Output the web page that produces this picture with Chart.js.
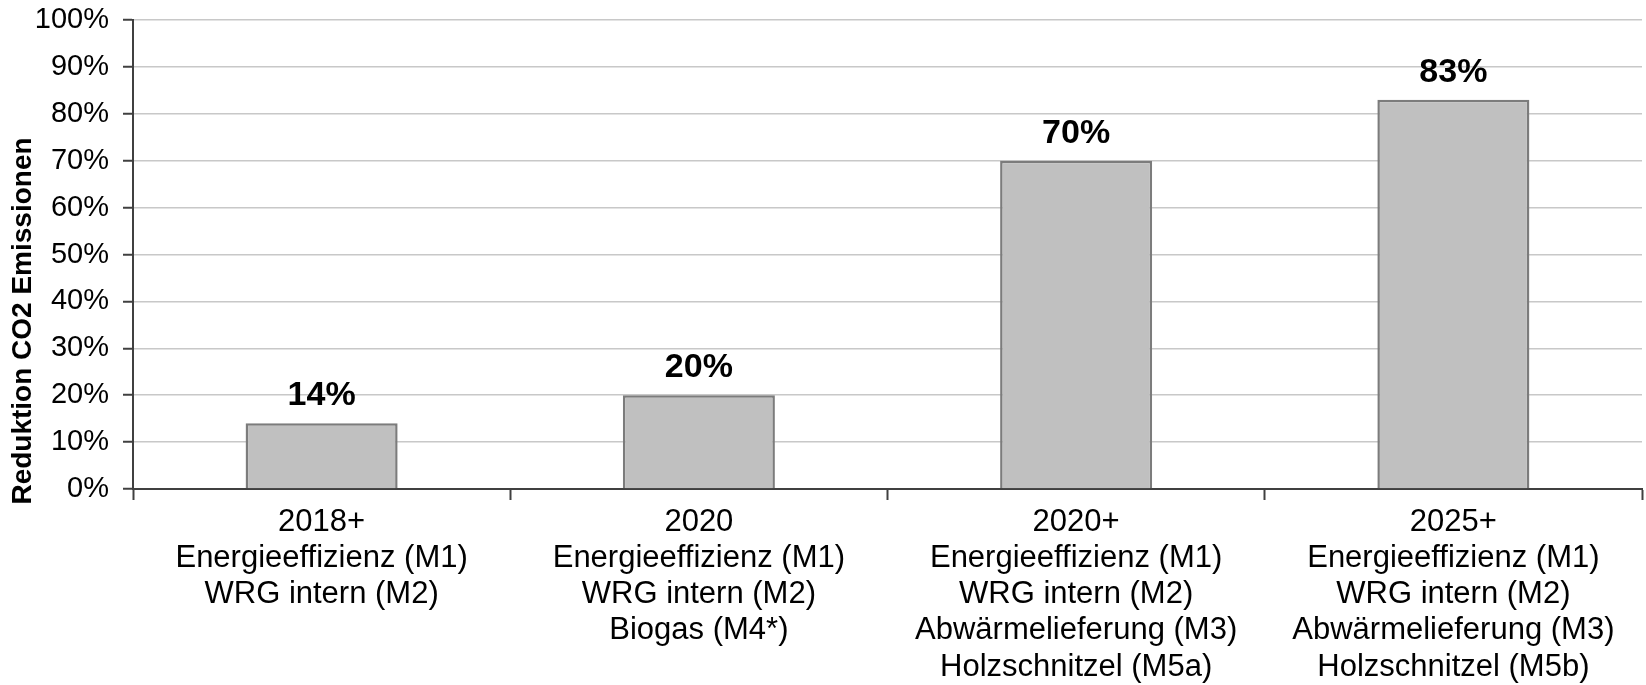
<!DOCTYPE html>
<html lang="de">
<head>
<meta charset="utf-8">
<title>Reduktion CO2 Emissionen</title>
<script src="https://cdn.jsdelivr.net/npm/chart.js@4/dist/chart.umd.min.js"></script>
<style>
  html, body { margin: 0; padding: 0; background: #ffffff; }
  #wrap { width: 1646px; height: 685px; }
</style>
</head>
<body>
<div id="wrap"><canvas id="chart" width="1646" height="685"></canvas></div>
<script>
// Scenario labels (one array entry per text line)
const categories = [
  ["2018+", "Energieeffizienz (M1)", "WRG intern (M2)"],
  ["2020", "Energieeffizienz (M1)", "WRG intern (M2)", "Biogas (M4*)"],
  ["2020+", "Energieeffizienz (M1)", "WRG intern (M2)", "Abwärmelieferung (M3)", "Holzschnitzel (M5a)"],
  ["2025+", "Energieeffizienz (M1)", "WRG intern (M2)", "Abwärmelieferung (M3)", "Holzschnitzel (M5b)"]
];

// CO2 reduction per scenario, in percent
const reductionValues = [14, 20, 70, 83];

// Y axis tick values (percent)
const yTickValues = [0, 10, 20, 30, 40, 50, 60, 70, 80, 90, 100];

const axisTitle = "Reduktion CO2 Emissionen";
const FONT = "'Liberation Sans', Arial, sans-serif";

// Bold value labels above each bar
const valueLabels = {
  id: 'valueLabels',
  afterDatasetsDraw(chart) {
    const ctx = chart.ctx;
    const meta = chart.getDatasetMeta(0);
    ctx.save();
    ctx.font = "bold 34px " + FONT;
    ctx.fillStyle = "#000000";
    ctx.textAlign = "center";
    ctx.textBaseline = "alphabetic";
    meta.data.forEach((bar, i) => {
      ctx.fillText(reductionValues[i] + "%", bar.x, bar.y - 18);
    });
    ctx.restore();
  }
};

// Rotated y axis title
const yTitle = {
  id: 'yTitle',
  afterDraw(chart) {
    const ctx = chart.ctx;
    ctx.save();
    ctx.translate(23, 321);
    ctx.rotate(-Math.PI / 2);
    ctx.font = "bold 28px " + FONT;
    ctx.fillStyle = "#000000";
    ctx.textAlign = "center";
    ctx.textBaseline = "middle";
    ctx.fillText(axisTitle, 0, 0);
    ctx.restore();
  }
};

new Chart(document.getElementById('chart'), {
  type: 'bar',
  data: {
    labels: categories,
    datasets: [{
      data: reductionValues,
      backgroundColor: '#c0c0c0',
      borderColor: '#7c7c7c',
      borderWidth: 2.5,
      categoryPercentage: 1.0,
      barPercentage: 0.403
    }]
  },
  options: {
    responsive: false,
    animation: false,
    layout: { padding: { top: 20, right: 4, left: 0, bottom: 0 } },
    plugins: {
      legend: { display: false },
      tooltip: { enabled: false }
    },
    scales: {
      x: {
        offset: true,
        grid: {
          offset: true,
          drawOnChartArea: false,
          drawTicks: true,
          tickLength: 11,
          tickWidth: 2,
          tickColor: '#404040'
        },
        border: { display: true, color: '#404040', width: 2 },
        ticks: {
          color: '#000000',
          font: { family: FONT, size: 31, lineHeight: 1.17 },
          padding: 4,
          maxRotation: 0,
          autoSkip: false
        },
        afterFit(scale) {
          scale.height = 196;
          scale.paddingLeft = 0;
          scale.paddingRight = 0;
        }
      },
      y: {
        min: 0,
        max: 100,
        afterBuildTicks(scale) {
          scale.ticks = yTickValues.map(v => ({ value: v }));
        },
        grid: {
          color: '#c8c8c8',
          lineWidth: 1.5,
          drawTicks: true,
          tickLength: 10,
          tickColor: '#404040',
          tickWidth: 2
        },
        border: { display: true, color: '#404040', width: 2 },
        ticks: {
          color: '#000000',
          font: { family: FONT, size: 29 },
          padding: 14,
          callback: (v) => v + '%'
        },
        afterFit(scale) {
          scale.width = 133;
          scale.paddingTop = 0;
          scale.paddingBottom = 0;
        }
      }
    }
  },
  plugins: [valueLabels, yTitle]
});
</script>
</body>
</html>
